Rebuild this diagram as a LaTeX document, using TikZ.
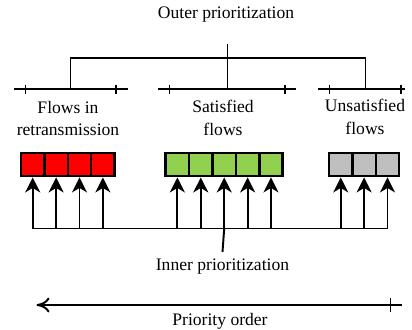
\documentclass[tikz,border=0pt]{standalone}
\usepackage{fontspec}
\setmainfont{Liberation Serif}
\usepackage{tikz}
\usetikzlibrary{arrows.meta}

\definecolor{flowred}{RGB}{255,0,0}
\definecolor{flowgreen}{RGB}{146,208,80}
\definecolor{flowgray}{RGB}{191,191,191}

\tikzset{
  cell/.style={draw,line width=1.4pt,minimum size=0.468cm,inner sep=0pt},
  uparrow/.style={line width=1.1pt,-{Stealth[length=3mm,width=3mm,inset=0.9mm]}},
  lbl/.style={align=center,font=\fontsize{10}{13}\selectfont}
}

\begin{document}
\begin{tikzpicture}[line width=1.1pt,font=\fontsize{10}{12}\selectfont]
\useasboundingbox (0,0) rectangle (8.24,-6.58);

% outer level
\node (outer) at (4.52,-0.30) {Outer prioritization};
\coordinate (otop) at (4.55,-0.88);
\coordinate (hbar) at (4.55,-1.16);
\coordinate (lb) at (1.41,-1.78);
\coordinate (mb) at (4.55,-1.78);
\coordinate (rb) at (7.31,-1.78);
\draw (otop) -- (mb);
\draw (lb) |- (hbar) -| (rb);

% brackets
\foreach \a/\b/\c/\d in {0.28/0.51/2.32/2.56,3.16/3.39/5.70/5.92,6.36/6.59/8.02/8.09}{
  \draw (\a,-1.78) -- (\d,-1.78)
  (\b,-1.69) -- (\b,-1.87)
  (\c,-1.69) -- (\c,-1.87);
}

\node[lbl] (retx) at (1.36,-2.37) {Flows in\\retransmission};
\node[lbl] (sat) at (4.46,-2.35) {Satisfied\\flows};
\node[lbl] (unsat) at (7.30,-2.33) {Unsatisfied\\flows};

% queues
\foreach \i in {1,...,4}
  \node[cell,fill=flowred] (r\i) at (0.186+0.468*\i,-3.29) {};
\foreach \i in {1,...,5}
  \node[cell,fill=flowgreen] (g\i) at (3.080+0.468*\i,-3.29) {};
\foreach \i in {1,...,3}
  \node[cell,fill=flowgray] (u\i) at (6.346+0.468*\i,-3.29) {};

% inner level
\coordinate (bus) at (0,-4.57);
\draw (r1 |- bus) -- (u3 |- bus);
\foreach \n in {r1,r2,r3,r4,g1,g2,g3,g4,g5,u1,u2,u3}
  \draw[uparrow] (\n |- bus) -- (\n.south);
\node (inner) at (4.45,-5.33) {Inner prioritization};
\draw (g3 |- bus) -- (inner.north);

% priority order
\coordinate (pend) at (8.03,-6.10);
\coordinate (ptip) at (0.73,-6.10);
\draw[-{To[length=2.6mm,width=3mm]}] (pend) -- (ptip);
\draw (7.81,-5.96) -- (7.81,-6.24);
\node (order) at (4.40,-6.42) {Priority order};
\end{tikzpicture}
\end{document}
